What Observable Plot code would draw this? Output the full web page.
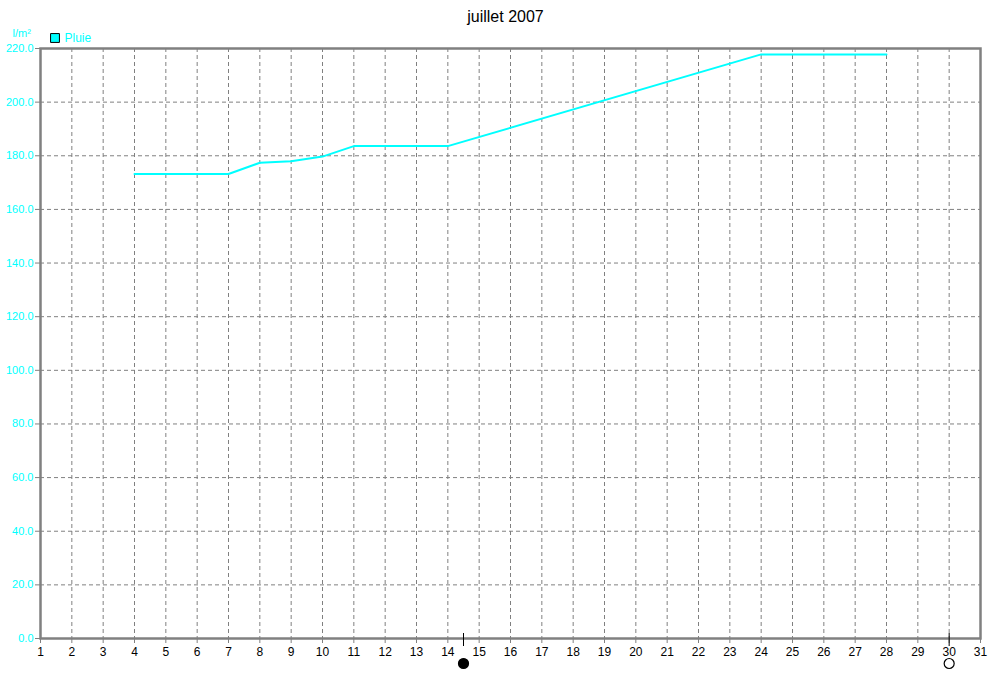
<!DOCTYPE html>
<html>
<head>
<meta charset="utf-8">
<script src="https://cdn.jsdelivr.net/npm/d3@7"></script>
<script src="https://cdn.jsdelivr.net/npm/@observablehq/plot@0.6"></script>
<style>
  html, body { margin: 0; padding: 0; background: #fff; }
  svg { display: block; }
</style>
</head>
<body>
<div id="chart"></div>
<script>
// Data (cumulative rain, l/m²)
const days = [4, 5, 6, 7, 8, 9, 10, 11, 12, 13, 14, 24, 25, 26, 27, 28];
const rain = [173.2, 173.2, 173.2, 173.2, 177.4, 178.0, 179.7, 183.6, 183.6, 183.6, 183.6, 217.8, 217.8, 217.8, 217.8, 217.8];
const xTicks = d3.range(1, 32);
const yTicks = d3.range(0, 221, 20);
const moonDays = [14.5, 30];
const moonFull = [true, false];
const title = "juillet 2007";
const seriesName = "Pluie";
const unitLabel = "l/m²";

const data = days.map((d, i) => ({day: d, rain: rain[i]}));
const moons = moonDays.map((d, i) => ({day: d, full: moonFull[i]}));

const font = "'Liberation Sans', Arial, sans-serif";
const gray = "#808080";
const cyan = "#00ffff";

const chart = Plot.plot({
  width: 1007,
  height: 674,
  marginLeft: 40,
  marginRight: 27,
  marginTop: 48,
  marginBottom: 36,
  style: {fontFamily: font, fontSize: "11px", background: "#fff", overflow: "visible"},
  x: {domain: [1, 31]},
  y: {domain: [0, 220]},
  marks: [
    Plot.ruleX(xTicks.slice(1, -1), {stroke: gray, strokeWidth: 1, strokeDasharray: "4,3"}),
    Plot.ruleY(yTicks.slice(1, -1), {stroke: gray, strokeWidth: 1, strokeDasharray: "4,3"}),
    Plot.axisX({ticks: xTicks, tickFormat: d => String(d), tickSize: 5, tickPadding: 4, stroke: gray, fill: "#000", label: null, fontSize: 12}),
    Plot.axisY({ticks: yTicks, tickFormat: d => d.toFixed(1), tickSize: 5, tickPadding: 2, stroke: gray, fill: cyan, label: null, fontSize: 11}),
    Plot.line(data, {x: "day", y: "rain", stroke: cyan, strokeWidth: 2}),
    Plot.frame({stroke: gray, strokeWidth: 2.5}),
    Plot.ruleX(moons, {x: "day", y1: 0, y2: 0, insetTop: -5, insetBottom: -8, stroke: "#000", strokeWidth: 1}),
    Plot.dot(moons, {x: "day", y: 0, dy: 25, r: 5, fill: d => d.full ? "#000" : "#fff", stroke: "#000", strokeWidth: 1.2}),
    Plot.text([title], {frameAnchor: "top", lineAnchor: "middle", dx: -5, dy: -32, text: d => d, fill: "#000", fontSize: 16}),
    Plot.text([unitLabel], {frameAnchor: "top-left", lineAnchor: "middle", dx: -28, dy: -15, textAnchor: "start", text: d => d, fill: cyan, fontSize: 11}),
    Plot.dot([seriesName], {frameAnchor: "top-left", dx: 14.5, dy: -10.5, symbol: "square", r: 5, fill: cyan, stroke: "#000", strokeWidth: 1}),
    Plot.text([seriesName], {frameAnchor: "top-left", lineAnchor: "middle", dx: 24, dy: -10, textAnchor: "start", text: d => d, fill: cyan, fontSize: 12})
  ]
});
document.getElementById("chart").appendChild(chart);
</script>
</body>
</html>
